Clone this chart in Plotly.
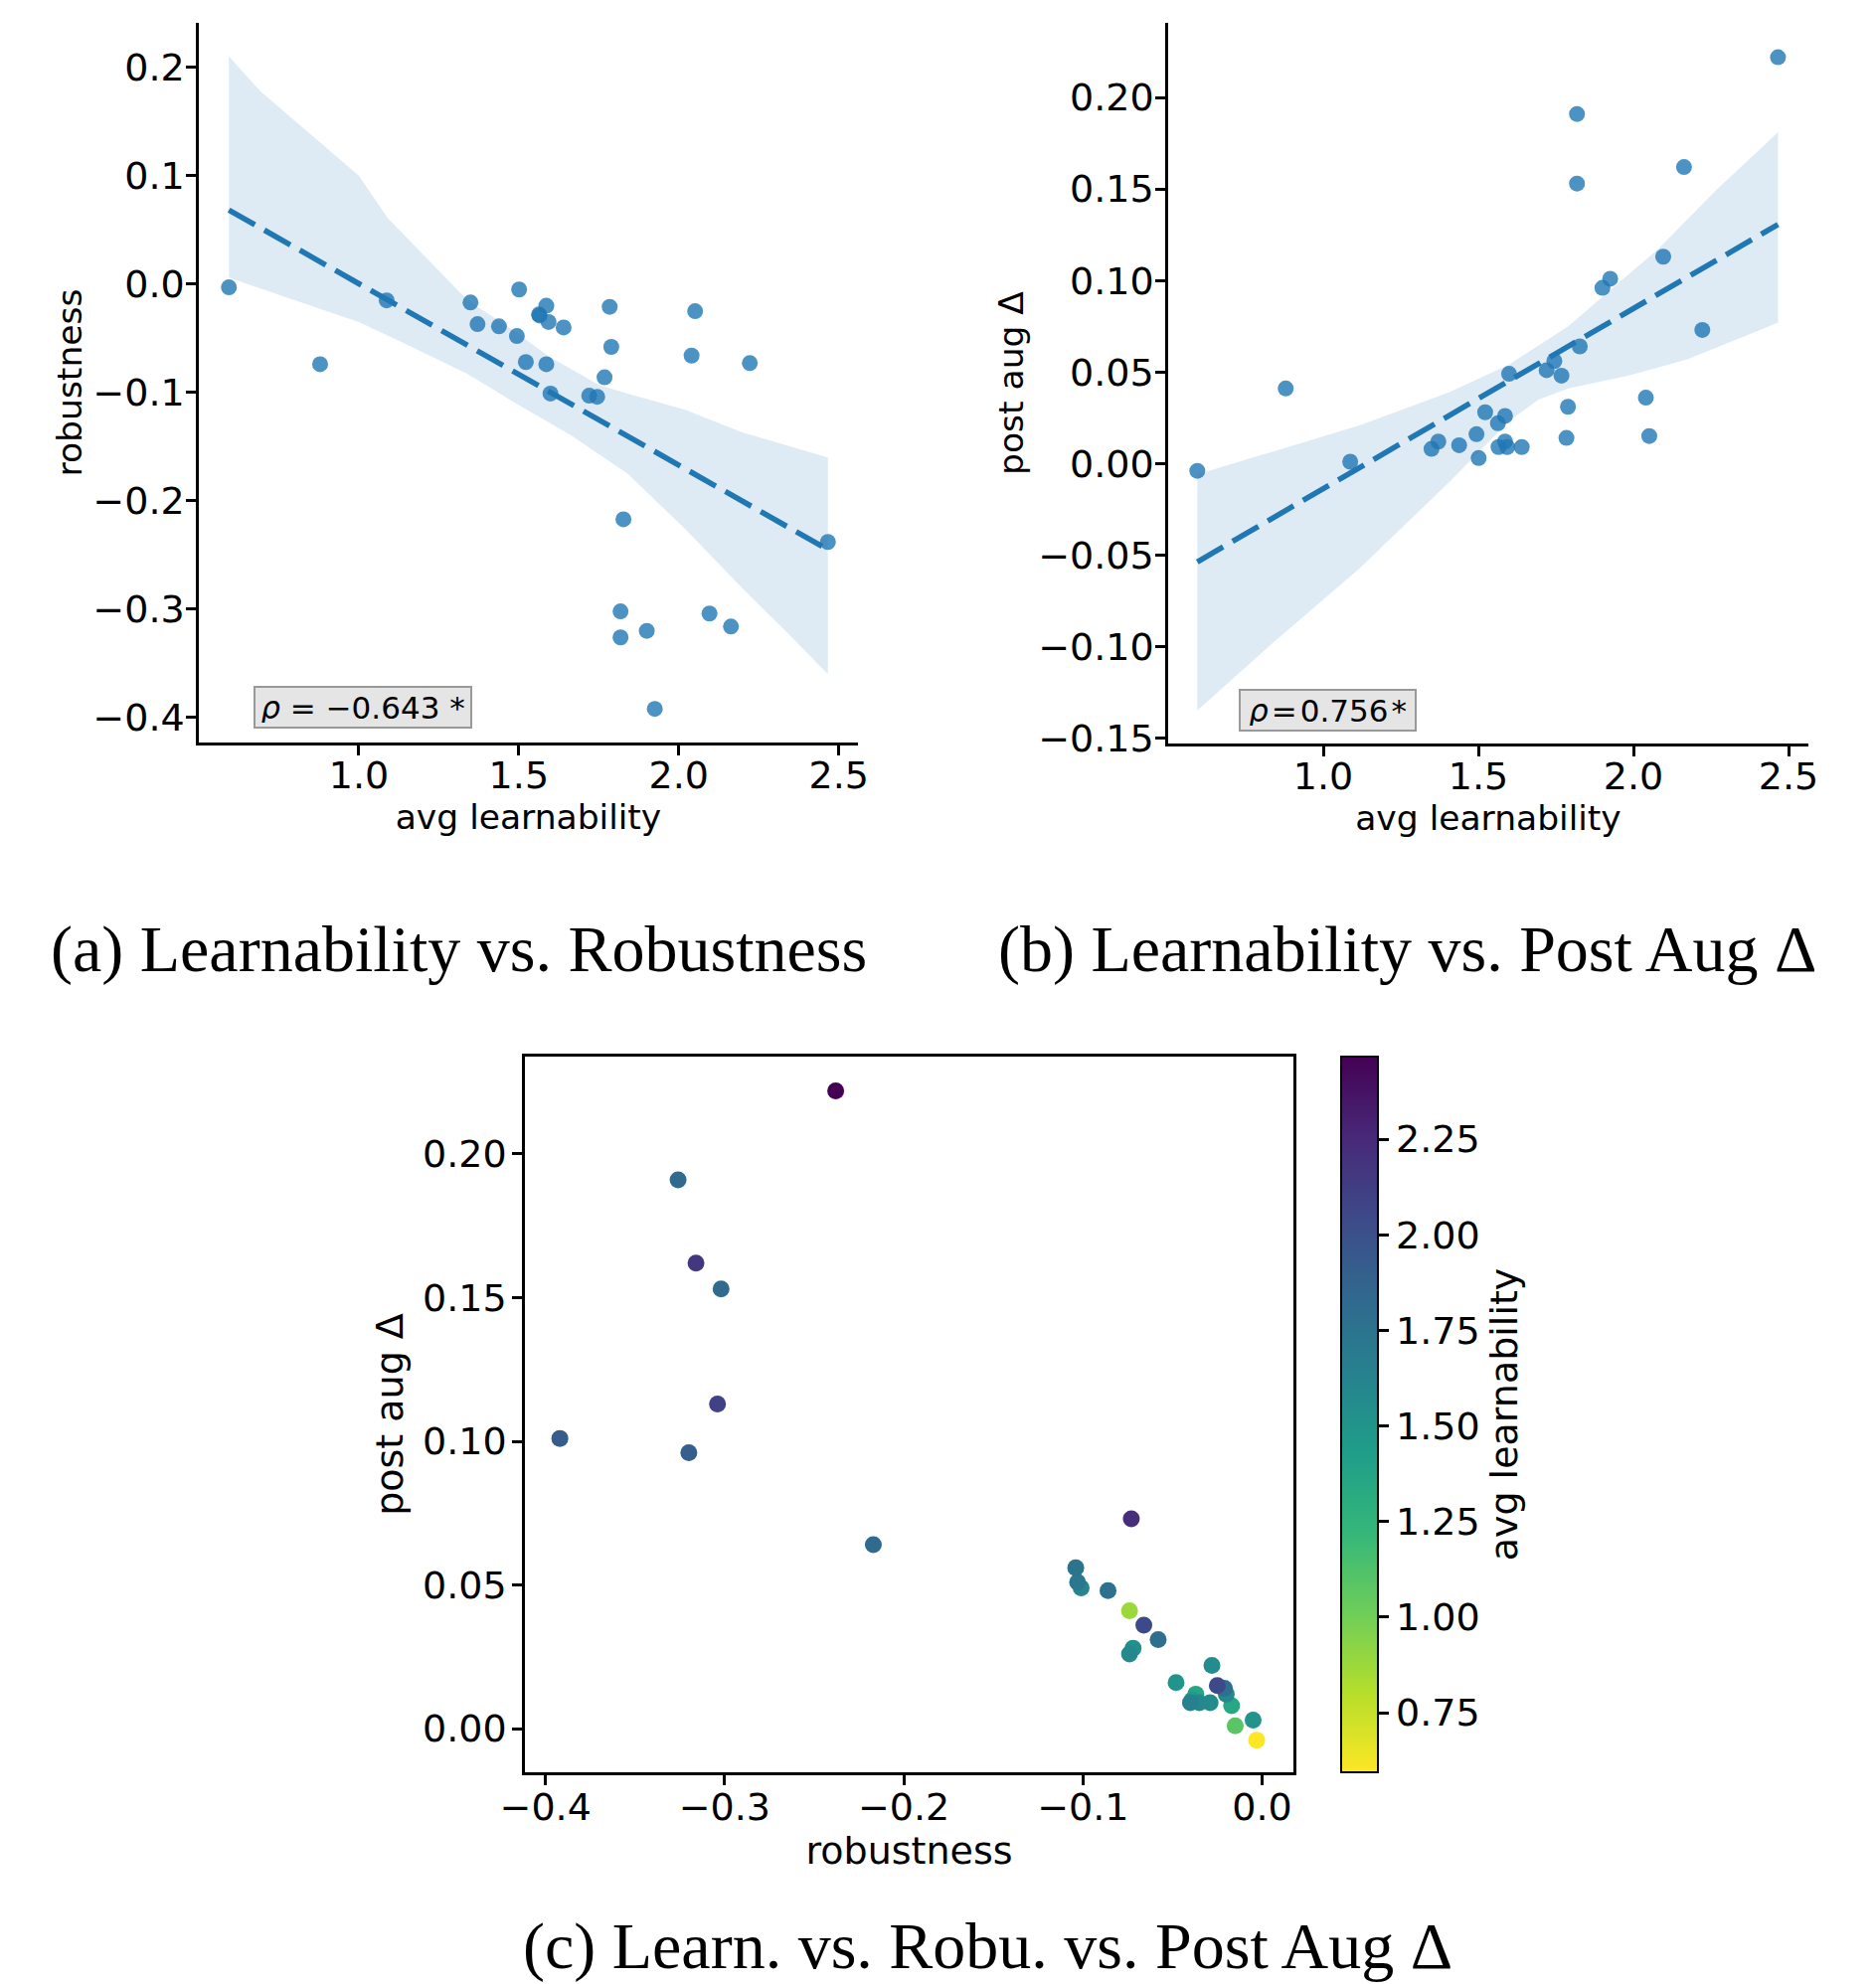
import numpy as np
import plotly.graph_objects as go

# ---- data ----
learnability = [0.594, 0.879, 1.087, 1.349, 1.371, 1.438, 1.494, 1.501, 1.522, 1.563, 1.565,
                1.586, 1.586, 1.593, 1.599, 1.640, 1.720, 1.745, 1.768, 1.784, 1.789, 1.827,
                1.818, 1.818, 1.900, 1.925, 2.040, 2.051, 2.096, 2.163, 2.222, 2.466]
robustness = [-0.003, -0.074, -0.015, -0.017, -0.037, -0.039, -0.048, -0.005, -0.072, -0.028, -0.029,
              -0.020, -0.074, -0.035, -0.101, -0.040, -0.103, -0.104, -0.086, -0.021, -0.058, -0.217,
              -0.302, -0.326, -0.320, -0.392, -0.066, -0.025, -0.304, -0.316, -0.073, -0.238]
post_aug = [-0.004, 0.041, 0.001, 0.008, 0.012, 0.010, 0.016, 0.003, 0.028, 0.022, 0.009,
            0.012, 0.026, 0.009, 0.049, 0.009, 0.051, 0.056, 0.048, 0.014, 0.031, 0.064,
            0.153, 0.191, 0.096, 0.101, 0.036, 0.015, 0.113, 0.162, 0.073, 0.222]

# confidence band edges
band_a_upper_x = [0.594, 0.692, 1.0, 1.09, 1.34, 1.485, 1.59, 1.75, 1.84, 2.02, 2.20, 2.466]
band_a_upper_y = [0.210, 0.178, 0.100, 0.061, -0.015, -0.043, -0.066, -0.093, -0.101, -0.116, -0.137, -0.160]
band_a_lower_x = [0.594, 0.77, 1.0, 1.13, 1.34, 1.485, 1.66, 1.84, 2.02, 2.20, 2.34, 2.466]
band_a_lower_y = [0.006, -0.012, -0.035, -0.053, -0.083, -0.109, -0.139, -0.175, -0.226, -0.281, -0.322, -0.360]

band_b_upper_x = [0.594, 0.831, 1.119, 1.407, 1.598, 1.790, 1.886, 2.078, 2.270, 2.466]
band_b_upper_y = [-0.006, 0.006, 0.021, 0.039, 0.054, 0.075, 0.089, 0.117, 0.150, 0.181]
band_b_lower_x = [0.594, 0.831, 1.119, 1.407, 1.598, 1.694, 1.790, 1.982, 2.174, 2.466]
band_b_lower_y = [-0.135, -0.099, -0.057, -0.010, 0.023, 0.035, 0.041, 0.048, 0.057, 0.077]

rho_a_text = "<i>ρ</i> = −0.643 *"
rho_b_text = "<i>ρ</i>\u200a=\u200a0.756\u200a*"

captions = ["(a) Learnability vs. Robustness",
            "(b) Learnability vs. Post Aug Δ",
            "(c) Learn. vs. Robu. vs. Post Aug Δ"]

# ---- figure geometry (page body has an 8px margin) ----
OFF = 8
W, H = 1887 - 2 * OFF, 1996 - OFF
def fx(px):
    return (px - OFF) / W
def fy(py):
    return 1 - (py - OFF) / H

BLUE = "#1f77b4"
PT_COLOR = "rgba(31,119,180,0.8)"
BAND = "rgba(31,119,180,0.15)"
SANS = "DejaVu Sans"
SERIF = "Liberation Serif"

fig = go.Figure()

x_fit = np.array([min(learnability), max(learnability)])

def add_panel(xa, ya, yvals, ux, uy, lx, ly):
    fig.add_trace(go.Scatter(
        x=list(ux) + list(lx[::-1]), y=list(uy) + list(ly[::-1]),
        fill="toself", fillcolor=BAND, line=dict(width=0), mode="lines",
        hoverinfo="skip", showlegend=False, xaxis=xa, yaxis=ya))
    k, b = np.polyfit(learnability, yvals, 1)
    fig.add_trace(go.Scatter(
        x=x_fit, y=k * x_fit + b, mode="lines",
        line=dict(color=BLUE, width=5.5, dash="30px,11px"),
        showlegend=False, xaxis=xa, yaxis=ya))
    fig.add_trace(go.Scatter(
        x=learnability, y=yvals, mode="markers",
        marker=dict(color=PT_COLOR, size=16, line=dict(width=0)),
        showlegend=False, xaxis=xa, yaxis=ya))

add_panel("x", "y", robustness, band_a_upper_x, band_a_upper_y, band_a_lower_x, band_a_lower_y)
add_panel("x2", "y2", post_aug, band_b_upper_x, band_b_upper_y, band_b_lower_x, band_b_lower_y)

fig.add_trace(go.Scatter(
    x=robustness, y=post_aug, mode="markers",
    marker=dict(color=learnability, colorscale="Viridis", reversescale=True,
                cmin=min(learnability), cmax=max(learnability), size=17,
                line=dict(width=0),
                colorbar=dict(
                    x=fx(1349), xanchor="left", y=fy(1783), yanchor="bottom",
                    len=(1783 - 1063) / H, lenmode="fraction",
                    thickness=37, thicknessmode="pixels",
                    xpad=0, ypad=0, outlinewidth=2, outlinecolor="black",
                    tickvals=[0.75, 1.0, 1.25, 1.5, 1.75, 2.0, 2.25], tickformat=".2f",
                    ticks="outside", ticklen=10, tickwidth=2.5, tickcolor="black",
                    tickfont=dict(family=SANS, size=38, color="black"),
                    title=dict(text="avg learnability", side="right",
                               font=dict(family=SANS, size=38, color="black")))),
    showlegend=False, xaxis="x3", yaxis="y3"))

axis_common = dict(showgrid=False, zeroline=False, showline=True, linecolor="black",
                   linewidth=2.5, ticks="outside", ticklen=10, tickwidth=2.5,
                   tickcolor="black", color="black", automargin=False)

def ax(domain, rng, tickvals, fmt, title, tsize, lsize, standoff, lbl_off, anchor, mirror=False):
    d = dict(axis_common)
    d.update(domain=domain, range=rng, tickvals=tickvals, tickformat=fmt,
             tickfont=dict(family=SANS, size=tsize, color="black"),
             ticklabelstandoff=lbl_off,
             title=dict(text=title, font=dict(family=SANS, size=lsize, color="black"),
                        standoff=standoff),
             anchor=anchor, mirror=mirror)
    return d

fig.update_layout(
    width=W, height=H, margin=dict(l=0, r=0, t=0, b=0, autoexpand=False),
    paper_bgcolor="white", plot_bgcolor="white",
    xaxis=ax([fx(200), fx(863)], [0.500, 2.560], [1.0, 1.5, 2.0, 2.5], ".1f",
             "avg learnability", 38, 34.5, 4, -12, "y"),
    yaxis=ax([fy(747), fy(23)], [-0.423, 0.241], [-0.4, -0.3, -0.2, -0.1, 0.0, 0.1, 0.2], ".1f",
             "robustness", 38, 34.5, 1, -6, "x"),
    xaxis2=ax([fx(1175), fx(1819)], [0.500, 2.564], [1.0, 1.5, 2.0, 2.5], ".1f",
              "avg learnability", 38, 34.5, 4, -12, "y2"),
    yaxis2=ax([fy(748), fy(23)], [-0.153, 0.2408], [-0.15, -0.10, -0.05, 0.0, 0.05, 0.10, 0.15, 0.20],
              ".2f", "post aug Δ", 38, 34.5, 5, -6, "x2"),
    xaxis3=ax([fx(528), fx(1301)], [-0.4115, 0.0175], [-0.4, -0.3, -0.2, -0.1, 0.0], ".1f",
              "robustness", 38, 38, 6, -10, "y3", mirror=True),
    yaxis3=ax([fy(1783), fy(1063)], [-0.0152, 0.2339], [0.0, 0.05, 0.10, 0.15, 0.20], ".2f",
              "post aug Δ", 38, 38, 8, -2, "x3", mirror=True),
)

annotations = []
for text, cx, cy, w in [(rho_a_text, 365, 711.5, 208), (rho_b_text, 1335, 714.5, 167)]:
    annotations.append(dict(
        text=text, xref="paper", yref="paper", x=fx(cx), y=fy(cy),
        xanchor="center", yanchor="middle", showarrow=False, width=w, height=31,
        align="center", valign="middle",
        font=dict(family=SANS, size=31, color="black"),
        bgcolor="#e5e5e5", bordercolor="#999999", borderwidth=2, borderpad=4))
for text, cx, cy in [(captions[0], 461, 955), (captions[1], 1415, 955), (captions[2], 993, 1958)]:
    annotations.append(dict(
        text=text, xref="paper", yref="paper", x=fx(cx), y=fy(cy),
        xanchor="center", yanchor="middle", showarrow=False,
        font=dict(family=SERIF, size=66, color="black")))
fig.update_layout(annotations=annotations)

fig.write_html("out.html")
